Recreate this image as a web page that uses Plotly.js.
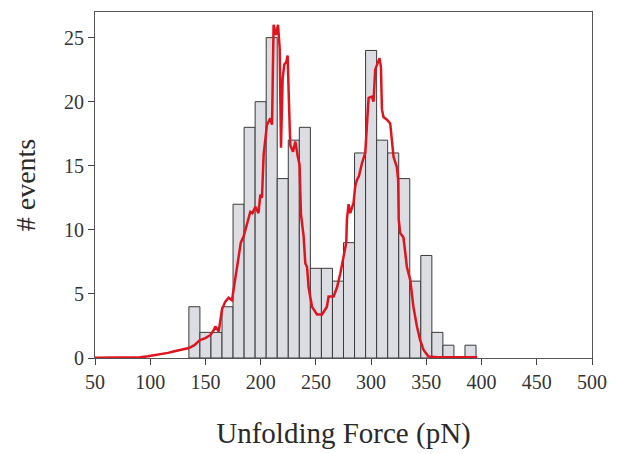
<!DOCTYPE html>
<html>
<head>
<meta charset="utf-8">
<script src="https://cdn.plot.ly/plotly-3.0.1.min.js"></script>
<style>html,body{margin:0;padding:0;background:#fff;}#chart{width:621px;height:454px;}</style>
</head>
<body>
<div id="chart"></div>
<script>
// Histogram bins (centers, pN) and counts
const binCenters = [140,150,160,170,180,190,200,210,220,230,240,250,260,270,280,290,300,310,320,330,340,350,360,370,380,390];
const binCounts  = [4,  2,  2,  4,  12, 18, 20, 25, 14, 17, 18, 7,  7,  6,  9,  16, 24, 17, 16, 14, 6,  8,  2,  1,  0,  1];

// Red curve
const curveX = [50,70,91,98,109,116,121,128,135,140,145,150,154.5,157,159,162,163.5,165,168,171,174,175.5,177,180,182,184.6,187,189,190.6,192.5,195.2,198,199.7,201.2,202.7,205.7,208.7,210.3,211.7,213.9,215.7,217.2,218.4,219.9,221.4,223.2,224.4,225.6,226.8,229.3,231.4,233.4,235.2,236.5,238.9,240.4,242,243.4,246.5,251,255.5,260,261.5,266,269.1,272.1,275,277.5,278.1,279.6,281.1,284.1,285.6,287.2,289,291.7,294.7,297.7,300.7,302.2,303.7,305.8,307.6,308.9,309.8,311.2,314.3,317.3,318.8,320.3,323.3,324.5,325,326.3,329.3,332.4,335.4,338.3,341.4,344.4,347.4,351.9,360,396];
const curveY = [0.02,0.03,0.05,0.13,0.26,0.4,0.5,0.65,0.78,1.0,1.4,1.55,1.8,2.1,2.46,2.07,3.0,3.8,4.4,4.7,4.5,5.3,6.1,7.7,9.0,9.5,10.2,10.8,11.4,11.3,11.8,11.3,12.75,12.5,15.9,18.2,18.7,18.2,26,25.2,26,24.2,16.4,21.8,22.9,23.1,23.6,20,16.6,16.1,16.9,15.8,15.1,11.2,9.5,7.4,7.1,5.5,4.0,3.4,3.4,4.0,4.8,4.8,5.5,6.6,7.9,9.0,10.8,12,11.3,12.1,13.4,13.9,14.2,15.2,16,20.3,20.4,20,22.5,23,23.4,22.7,19.4,18.8,18.6,18.3,17,15.7,14.9,13.9,10.8,9.75,9.4,7.1,6.1,4.0,2.5,1.4,0.65,0.12,0.05,0.05];

const xTicks = [50,100,150,200,250,300,350,400,450,500];
const yTicks = [0,5,10,15,20,25];

const serif = "Liberation Serif, Times New Roman, serif";

const traces = [
  {
    type: 'bar', x: binCenters, y: binCounts, width: 10,
    marker: {color: '#dcdde2', line: {color: '#3a3a3a', width: 1}},
    hoverinfo: 'x+y', showlegend: false
  },
  {
    type: 'scatter', mode: 'lines', x: curveX, y: curveY,
    line: {color: '#e0141e', width: 2.5},
    showlegend: false
  }
];

const layout = {
  width: 621, height: 454,
  margin: {l: 94.5, r: 29, t: 12, b: 96, pad: 0},
  paper_bgcolor: '#ffffff', plot_bgcolor: '#ffffff',
  bargap: 0,
  xaxis: {
    range: [50, 500], tickvals: xTicks, ticktext: xTicks.map(String),
    ticks: 'outside', ticklen: 6, tickwidth: 1, tickcolor: '#444',
    showline: true, linecolor: '#555', linewidth: 1, mirror: true,
    showgrid: false, zeroline: false,
    tickfont: {family: serif, size: 20, color: '#333'},
    title: {text: 'Unfolding Force (pN)', font: {family: serif, size: 29, color: '#2a2a2a'}, standoff: 30}
  },
  yaxis: {
    range: [0, 27], tickvals: yTicks, ticktext: yTicks.map(String),
    ticks: 'outside', ticklen: 6, tickwidth: 1, tickcolor: '#444',
    showline: true, linecolor: '#555', linewidth: 1, mirror: true,
    showgrid: false, zeroline: false,
    tickfont: {family: serif, size: 20, color: '#333'},
    title: {text: '# events', font: {family: serif, size: 28, color: '#2a2a2a'}, standoff: 20}
  }
};

Plotly.newPlot('chart', traces, layout, {displayModeBar: false, staticPlot: true});
</script>
</body>
</html>
